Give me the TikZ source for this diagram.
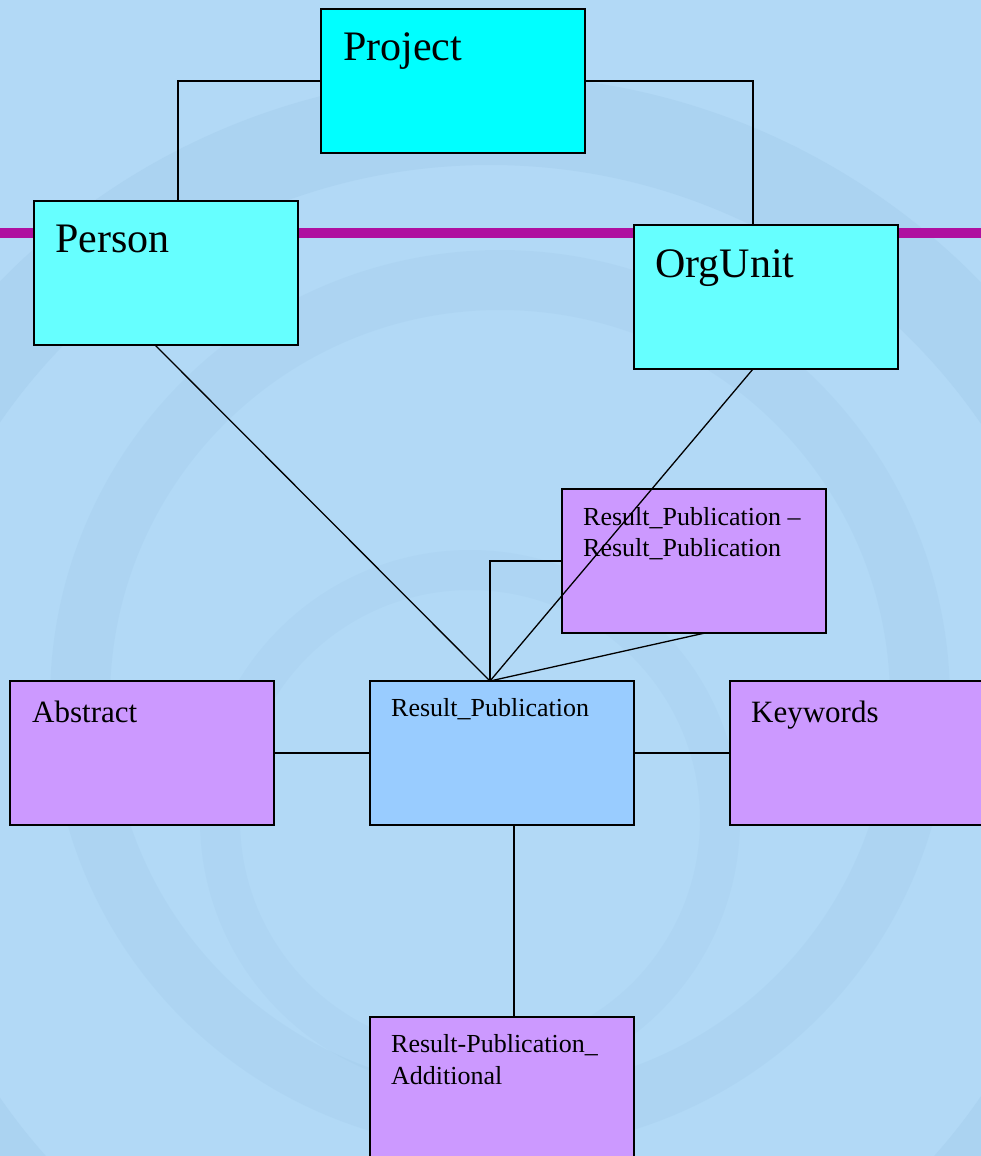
\documentclass[tikz,border=0pt]{standalone}
\usepackage{fontspec}
\setmainfont{Liberation Serif}
\definecolor{bgblue}{HTML}{B2D9F6}
\definecolor{bgdark}{HTML}{8DB8DC}
\definecolor{magline}{HTML}{AF10A0}
\definecolor{cyanA}{HTML}{00FFFF}
\definecolor{cyanB}{HTML}{66FFFF}
\definecolor{rpblue}{HTML}{99CCFF}
\definecolor{lilac}{HTML}{CC99FF}
\tikzset{
  box/.style={draw=black, line width=2pt, anchor=north west, minimum width=264pt, minimum height=144pt, inner sep=0pt, outer sep=0pt},
  conn/.style={draw=black, line width=1.3pt},
  bigtxt/.style={anchor=base west, inner sep=0pt, font=\fontsize{42}{48}\selectfont},
  midtxt/.style={anchor=base west, inner sep=0pt, font=\fontsize{31}{36}\selectfont},
  smalltxt/.style={anchor=base west, inner sep=0pt, font=\fontsize{26}{31.5}\selectfont}
}
\begin{document}
\begin{tikzpicture}[x=1pt,y=-1pt]
\useasboundingbox (0,0) rectangle (981,1156);
\begin{scope}
\clip (0,0) rectangle (981,1156);
\fill[bgblue] (0,0) rectangle (981,1156);
% faint watermark swirls
\draw[bgdark, line width=90pt, opacity=0.18] (490,760) circle[radius=640];
\draw[bgdark, line width=60pt, opacity=0.12] (500,700) circle[radius=420];
\draw[bgdark, line width=40pt, opacity=0.10] (470,820) circle[radius=250];
% magenta horizontal line
\fill[magline] (0,228) rectangle (981,238);
% boxes
\node[box, fill=cyanA] (project) at (321,9) {};
\node[box, fill=cyanB] (person) at (34,201) {};
\node[box, fill=cyanB] (orgunit) at (634,225) {};
\node[box, fill=lilac] (rprp) at (562,489) {};
\node[box, fill=rpblue] (rp) at (370,681) {};
\node[box, fill=lilac] (abstract) at (10,681) {};
\node[box, fill=lilac] (keywords) at (730,681) {};
\node[box, fill=lilac] (additional) at (370,1017) {};
% connector points
\coordinate (rptop) at (490,0 |- rp.north);
% connectors
\draw[conn] (project.west) -| (178,0 |- person.north);
\draw[conn] (project.east) -| (753,0 |- orgunit.north);
\draw[conn] (155,0 |- person.south) -- (rptop);
\draw[conn] (753,0 |- orgunit.south) -- (rptop);
\draw[conn] (rptop) |- (rprp.west);
\draw[conn] (rptop) -- (705,0 |- rprp.south);
\draw[conn] (abstract.east) -- (rp.west);
\draw[conn] (rp.east) -- (keywords.west);
\draw[conn] (514,0 |- rp.south) -- (514,0 |- additional.north);
% texts
\node[bigtxt] (tproject) at (343,61) {Project};
\node[bigtxt] (tperson) at (55,252) {Person};
\node[bigtxt] (torgunit) at (655,277) {OrgUnit};
\node[smalltxt] (trprp1) at (583,525) {Result\_Publication –};
\node[smalltxt] (trprp2) at (583,556.5) {Result\_Publication};
\node[smalltxt] (trp) at (391,716.5) {Result\_Publication};
\node[midtxt] (tabstract) at (32,722) {Abstract};
\node[midtxt] (tkeywords) at (751,722) {Keywords};
\node[smalltxt] (tadd1) at (391,1052.5) {Result-Publication\_};
\node[smalltxt] (tadd2) at (391,1084) {Additional};
\end{scope}
\end{tikzpicture}
\end{document}
